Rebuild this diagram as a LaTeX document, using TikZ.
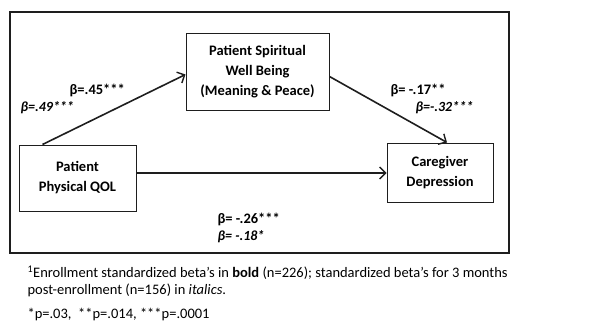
\documentclass[tikz,border=0pt]{standalone}
\usepackage{fontspec}
\setmainfont{Carlito}
\usetikzlibrary{arrows.meta,positioning}
\definecolor{inkc}{RGB}{30,30,30}

\begin{document}
\begin{tikzpicture}[x=1pt,y=-1pt,
  box/.style={draw=inkc,line width=1pt,align=center,font=\bfseries\fontsize{14.5}{20}\selectfont},
  path/.style={draw=inkc,line width=1.6pt,-{Straight Barb[length=6pt,width=12pt,line width=1.4pt]}},
  coef/.style={font=\bfseries\fontsize{14.5}{15}\selectfont,anchor=west},
  coefl/.style={font=\itshape\bfseries\fontsize{14}{15}\selectfont,anchor=west}]
  \useasboundingbox (0,0) rectangle (590,332);
  \draw[inkc,line width=1.1pt] (10,12) rectangle (509,253);
  % the three variables
  \node[box,minimum width=143pt,minimum height=77pt] (swb) at (257.5,71.5) {Patient Spiritual\\Well Being\\(Meaning \& Peace)};
  \node[box,minimum width=117pt,minimum height=66pt] (qol) at (77.5,178) {Patient\\Physical QOL};
  \node[box,minimum width=106pt,minimum height=59pt] (dep) at (440,172.5) {Caregiver\\Depression};
  % paths
  \draw[path] ([xshift=24pt]qol.north west) -- ([yshift=-3pt]swb.west);
  \draw[path] ([yshift=-5pt]swb.east) -- ([xshift=7pt]dep.north);
  \draw[path] ([yshift=5pt]qol.east) -- ([yshift=5pt]qol.east -| dep.west);
  % coefficients
  \node[coef] (b1) at (66,90) {β=.45***};
  \node[coefl] (i1) at (17,108) {β=.49***};
  \node[coef] (b2) at (387,90) {β= -.17**};
  \node[coefl] (i2) at (412,108) {β=-.32***};
  \node[coef] (b3) at (214,219) {β= -.26***};
  \node[coefl] (i3) at (214,237) {β= -.18*};
  % footnotes
  \node[anchor=west,align=left,font=\fontsize{14.5}{17}\selectfont] (fn) at (24,281.5)
    {\textsuperscript{1}Enrollment standardized beta’s in \textbf{bold} (n=226); standardized beta’s for 3 months\\post-enrollment (n=156) in \textit{italics}.};
  \node[anchor=west,font=\fontsize{14.5}{15}\selectfont] (sig) at (24,315) {*p=.03,\ \ **p=.014, ***p=.0001};
\end{tikzpicture}
\end{document}
